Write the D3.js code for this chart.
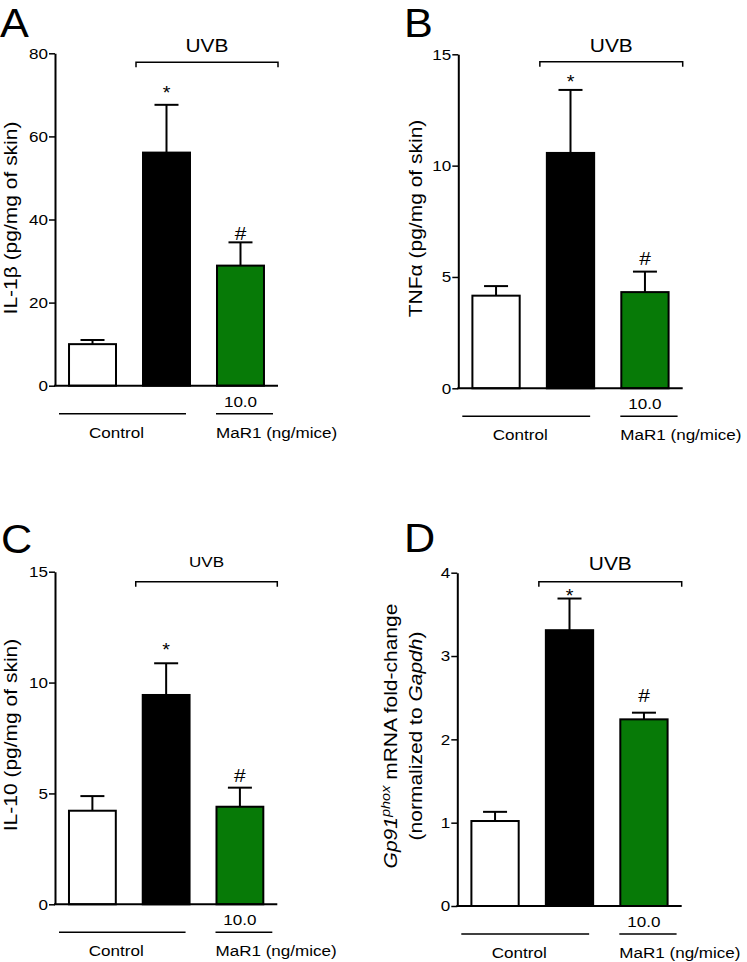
<!DOCTYPE html>
<html>
<head>
<meta charset="utf-8">
<script src="https://cdn.jsdelivr.net/npm/d3@7"></script>
<style>
  html, body { margin: 0; padding: 0; background: #fff; }
  svg { display: block; }
  text { font-family: "Liberation Sans", Arial, sans-serif; fill: #000; }
</style>
</head>
<body>
<svg id="chart" width="747" height="962"></svg>
<script>
// ---------------- data ----------------
const groups = ["Control", "UVB", "UVB+MaR1"];

const il1bMean = [10.0, 56.1, 28.9];
const il1bSem  = [1.0, 11.5, 5.6];
const il1bTicks = [0, 20, 40, 60, 80];

const tnfMean = [4.16, 10.57, 4.32];
const tnfSem  = [0.43, 2.83, 0.92];
const tnfTicks = [0, 5, 10, 15];

const il10Mean = [4.22, 9.44, 4.40];
const il10Sem  = [0.66, 1.43, 0.86];
const il10Ticks = [0, 5, 10, 15];

const gp91Mean = [1.02, 3.31, 2.24];
const gp91Sem  = [0.11, 0.38, 0.08];
const gp91Ticks = [0, 1, 2, 3, 4];

const panelLetters = ["A", "B", "C", "D"];
const marks = ["", "*", "#"];
const doseLabel = "10.0";
const controlLabel = "Control";
const treatLabel = "MaR1 (ng/mice)";
const uvbLabel = "UVB";

// ---------------- layout ----------------
const fills = ["#ffffff", "#000000", "#077a07"];
const SX = 1.1; // horizontal stretch of the original figure's text

const panels = [
  { letter: panelLetters[0], mean: il1bMean, sem: il1bSem, ticks: il1bTicks,
    x0: 55, x1: 278, yTop: 53.3, yBot: 385.7, lx: 0, ly: 36.5,
    uvbY: 51.5, uvbSize: 19, brY: 62.3, starOff: 5, hashOff: 2,
    ylab: { x: 17, y: 218, lines: [[{t: "IL-1β (pg/mg of skin)"}]] } },
  { letter: panelLetters[1], mean: tnfMean, sem: tnfSem, ticks: tnfTicks,
    x0: 458.3, x1: 682.7, yTop: 54.3, yBot: 388.3, lx: 404, ly: 36.5,
    uvbY: 51.5, uvbSize: 19, brY: 61.7, starOff: 1, hashOff: 7,
    ylab: { x: 421.5, y: 218.5, lines: [[{t: "TNFα (pg/mg of skin)"}]] } },
  { letter: panelLetters[2], mean: il10Mean, sem: il10Sem, ticks: il10Ticks,
    x0: 55, x1: 277.3, yTop: 571.7, yBot: 904.3, lx: 1, ly: 553,
    uvbY: 566.7, uvbSize: 15.5, brY: 581.7, starOff: 6, hashOff: 6,
    ylab: { x: 17, y: 735, lines: [[{t: "IL-10 (pg/mg of skin)"}]] } },
  { letter: panelLetters[3], mean: gp91Mean, sem: gp91Sem, ticks: gp91Ticks,
    x0: 457.3, x1: 681.7, yTop: 572.7, yBot: 906, lx: 404, ly: 552,
    uvbY: 570, uvbSize: 19, brY: 581.7, starOff: -4, hashOff: 11,
    ylab: { x: 422, y: 736, lineGap: 25, lines: [
      [{t: "Gp91", i: true}, {t: "phox", i: true, sup: true}, {t: " mRNA fold-change"}],
      [{t: "(normalized to "}, {t: "Gapdh", i: true}, {t: ")"}]
    ] } }
];

const svg = d3.select("#chart");

function stext(g, x, y, str, size, anchor) {
  return g.append("text")
    .attr("transform", `translate(${x},${y}) scale(${SX},1)`)
    .attr("text-anchor", anchor || "middle")
    .style("font-size", size + "px")
    .text(str);
}

panels.forEach(p => {
  const g = svg.append("g");
  const ymax = p.ticks[p.ticks.length - 1];
  const y = d3.scaleLinear().domain([0, ymax]).range([p.yBot, p.yTop]);
  const x = d3.scaleBand().domain(groups).range([p.x0, p.x1])
    .paddingInner(0.338).paddingOuter(0.176);
  const bw = x.bandwidth();

  // panel letter
  g.append("text")
    .attr("transform", `translate(${p.lx},${p.ly}) scale(1.08,1)`)
    .style("font-size", "40px")
    .text(p.letter);

  // error bars (upward)
  const eb = g.append("g").attr("stroke", "#000").attr("stroke-width", 2);
  groups.forEach((k, i) => {
    const cx = x(k) + bw / 2;
    eb.append("line").attr("x1", cx).attr("x2", cx)
      .attr("y1", y(p.mean[i])).attr("y2", y(p.mean[i] + p.sem[i]));
    eb.append("line").attr("x1", cx - 12).attr("x2", cx + 12)
      .attr("y1", y(p.mean[i] + p.sem[i])).attr("y2", y(p.mean[i] + p.sem[i]));
  });

  // bars
  g.append("g").selectAll("rect").data(groups).join("rect")
    .attr("x", d => x(d) + 1)
    .attr("width", bw - 2)
    .attr("y", (d, i) => y(p.mean[i]))
    .attr("height", (d, i) => y(0) - y(p.mean[i]))
    .attr("fill", (d, i) => fills[i])
    .attr("stroke", "#000").attr("stroke-width", 2);

  // significance marks
  groups.forEach((k, i) => {
    if (!marks[i]) return;
    const cx = x(k) + bw / 2;
    const top = y(p.mean[i] + p.sem[i]);
    if (marks[i] === "*") stext(g, cx, top - p.starOff + 10, "*", 18).attr("dy", "-0.6em");
    else stext(g, cx, top - p.hashOff, "#", 19);
  });

  // y axis
  const ax = g.append("g").attr("transform", `translate(${p.x0},0)`)
    .call(d3.axisLeft(y).tickValues(p.ticks).tickFormat(d3.format("d"))
      .tickSize(6).tickSizeOuter(0).tickPadding(1));
  ax.select(".domain").attr("stroke", "#000").attr("stroke-width", 2);
  ax.selectAll(".tick line").attr("stroke", "#000").attr("stroke-width", 1.5);
  ax.selectAll(".tick text")
    .attr("x", -7 / SX)
    .attr("transform", `scale(${SX},1)`)
    .attr("fill", "#000")
    .style("font-size", "15.5px")
    .style("font-family", '"Liberation Sans", Arial, sans-serif');

  // x baseline
  g.append("line").attr("x1", p.x0 - 1).attr("x2", p.x1)
    .attr("y1", y(0)).attr("y2", y(0))
    .attr("stroke", "#000").attr("stroke-width", 2);

  // UVB bracket
  const bx0 = x(groups[1]) - 6;
  g.append("path")
    .attr("d", `M${bx0},${p.brY + 5}V${p.brY}H${p.x1}V${p.brY + 5}`)
    .attr("fill", "none").attr("stroke", "#000").attr("stroke-width", 1.5);
  stext(g, (bx0 + p.x1) / 2, p.uvbY, uvbLabel, p.uvbSize);

  // bottom group labels
  const y0 = y(0);
  const greenL = x(groups[2]);
  stext(g, greenL + bw / 2, y0 + 21, doseLabel, 15.5);
  g.append("line").attr("x1", greenL).attr("x2", greenL + bw + 8)
    .attr("y1", y0 + 28).attr("y2", y0 + 28)
    .attr("stroke", "#000").attr("stroke-width", 1.5);
  const cl0 = p.x0 + 4, cl1 = x(groups[1]) + bw - 5;
  g.append("line").attr("x1", cl0).attr("x2", cl1)
    .attr("y1", y0 + 28).attr("y2", y0 + 28)
    .attr("stroke", "#000").attr("stroke-width", 1.5);
  stext(g, (cl0 + cl1) / 2 - 6, y0 + 52, controlLabel, 15.5);
  stext(g, greenL, y0 + 52, treatLabel, 15.5, "start");

  // y label (rotated)
  const gap = p.ylab.lineGap || 0;
  const n = p.ylab.lines.length;
  p.ylab.lines.forEach((parts, li) => {
    const bx = p.ylab.x - (n - 1 - li) * gap;
    const t = g.append("text")
      .attr("transform", `translate(${bx},${p.ylab.y}) rotate(-90) scale(1,0.9)`)
      .attr("text-anchor", "middle")
      .style("font-size", "21px");
    let shifted = false;
    parts.forEach(pt => {
      const ts = t.append("tspan").text(pt.t);
      if (pt.i) ts.style("font-style", "italic");
      if (pt.sup) { ts.attr("dy", -8).style("font-size", "14.5px"); shifted = true; }
      else if (shifted) { ts.attr("dy", 8); shifted = false; }
    });
  });
});
</script>
</body>
</html>
